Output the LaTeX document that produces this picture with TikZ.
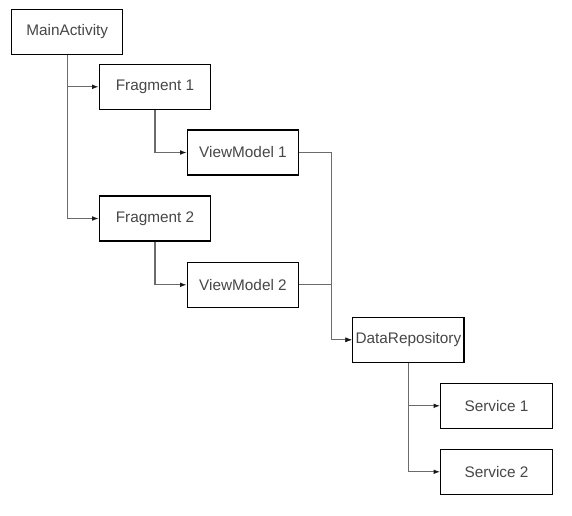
\documentclass[tikz,border=0pt]{standalone}
\usepackage{fontspec}
\setmainfont{Liberation Sans}
\usetikzlibrary{arrows.meta}
\begin{document}
\begin{tikzpicture}[x=0.75pt,y=-0.75pt,
  box/.style={draw=black, line width=0.9pt, fill=white, minimum width=83.5pt, minimum height=33.75pt, inner sep=0pt, text=black!72, font=\fontsize{11.5}{13}\selectfont},
  conn/.style={draw=black!58, line width=0.95pt, -{Latex[length=5pt,width=3.6pt,color=black!90]}}]
\useasboundingbox (0,0) rectangle (572,516);
\node[box] (ma) at (67.2,31.8) {MainActivity};
\node[box] (f1) at (155,86.8) {Fragment 1};
\node[box] (vm1) at (243,152.5) {ViewModel 1};
\node[box] (f2) at (155,218.5) {Fragment 2};
\node[box] (vm2) at (243,284.8) {ViewModel 2};
\node[box] (dr) at (408.4,339.8) {DataRepository};
\node[box] (s1) at (496.5,405.8) {Service 1};
\node[box] (s2) at (496.5,471.8) {Service 2};
\coordinate (jn) at (331.5,339.8);
\draw[conn] (ma.south) |- (f1.west);
\draw[conn] (ma.south) |- (f2.west);
\draw[conn] (f1.south) |- (vm1.west);
\draw[conn] (f2.south) |- (vm2.west);
\draw[conn] (vm1.east) -| (jn) -- (dr.west);
\draw[conn] (vm2.east) -| (jn) -- (dr.west);
\draw[conn] (dr.south) |- (s1.west);
\draw[conn] (dr.south) |- (s2.west);
\end{tikzpicture}
\end{document}
